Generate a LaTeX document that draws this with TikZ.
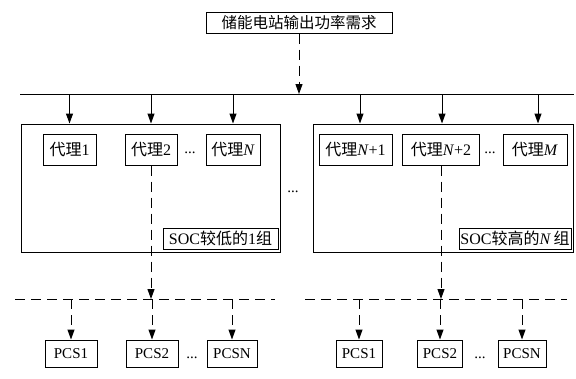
\documentclass[tikz,border=0pt]{standalone}
\usepackage{fontspec}
\setmainfont{Liberation Serif}
\newfontfamily\cjk{Noto Sans CJK SC}
\usetikzlibrary{arrows.meta}
\newcommand\zh[1]{{\cjk #1}}
\begin{document}
\begin{tikzpicture}[x=1pt,y=-1pt,
  box/.style={draw,line width=1pt,inner sep=0pt,font=\fontsize{16}{18}\selectfont},
  pcs/.style={box,font=\fontsize{15}{18}\selectfont},
  grp/.style={draw,line width=1pt},
  txt/.style={inner sep=0pt,font=\fontsize{15}{18}\selectfont},
  arr/.style={line width=1pt,-{Triangle[length=10pt,width=7pt]}},
  dsh/.style={line width=1pt,dash pattern=on 10pt off 6pt},
  darr/.style={dsh,-{Triangle[length=10pt,width=7pt]}}]
\useasboundingbox (0,0) rectangle (576,378);
% top node
\node[box,font=\fontsize{15.5}{18}\selectfont,minimum width=186pt,minimum height=21pt] (top) at (299,22.5) {\zh{储能电站输出功率需求}};
% bus
\coordinate (busL) at (20,94);
\coordinate (busR) at (574,94);
\draw[line width=1pt] (busL) -- (busR);
\draw[darr] (top.south) -- (top.south |- busL);
% groups
\node[grp,minimum width=259pt,minimum height=128pt,inner sep=0pt] (g1) at (150.5,188) {};
\node[grp,minimum width=260pt,minimum height=128pt,inner sep=0pt] (g2) at (443,188) {};
% agents
\node[box,minimum width=53pt,minimum height=31pt] (a1) at (69.5,149.5) {\zh{代理}1};
\node[box,minimum width=52pt,minimum height=31pt] (a2) at (151,149.5) {\zh{代理}2};
\node[box,minimum width=54pt,minimum height=31pt] (aN) at (233,149.5) {\zh{代理}\textit{N}};
\node[box,minimum width=73pt,minimum height=31pt] (b1) at (355.5,149.5) {\zh{代理}\textit{N}+1};
\node[box,minimum width=77pt,minimum height=31pt] (b2) at (441,149.5) {\zh{代理}\textit{N}+2};
\node[box,minimum width=64pt,minimum height=31pt] (bM) at (535,149.5) {\zh{代理}\textit{M}};
\node[txt] (d1) at (190,153) {...};
\node[txt] (d2) at (490,153) {...};
\node[txt] (dm) at (293,192) {...};
% arrows from bus to groups
\foreach \n/\g in {a1/g1,a2/g1,aN/g1}{
  \draw[arr] (\n.north |- busL) -- (\n.north |- \g.north);
}
\coordinate (xb1) at (360,94);
\coordinate (xb2) at (442,94);
\coordinate (xbM) at (538,94);
\foreach \c in {xb1,xb2,xbM}{
  \draw[arr] (\c) -- (\c |- g2.north);
}
% SOC labels
\node[box,minimum width=115pt,minimum height=21pt] (s1) at (220.5,238.5) {SOC\zh{较低的}1\zh{组}};
\node[box,minimum width=112pt,minimum height=21pt] (s2) at (515,238.5) {SOC\zh{较高的}\textit{N}\,\zh{组}};
% dashed buses
\coordinate (dL1) at (15,299);
\coordinate (dR1) at (275,299);
\coordinate (dL2) at (305,299);
\coordinate (dR2) at (567,299);
\draw[dsh] (dL1) -- (dR1);
\draw[dsh] (dL2) -- (dR2);
\draw[darr] (a2.south) -- (a2.south |- dL1);
\draw[darr] (b2.south) -- (b2.south |- dL2);
% PCS
\node[pcs,minimum width=52pt,minimum height=27pt] (p1) at (71,353.5) {PCS1};
\node[pcs,minimum width=52pt,minimum height=27pt] (p2) at (152,353.5) {PCS2};
\node[pcs,minimum width=50pt,minimum height=27pt] (pN) at (232,353.5) {PCSN};
\node[pcs,minimum width=46pt,minimum height=27pt] (q1) at (359,353.5) {PCS1};
\node[pcs,minimum width=45pt,minimum height=27pt] (q2) at (440,353.5) {PCS2};
\node[pcs,minimum width=48pt,minimum height=27pt] (qN) at (522,353.5) {PCSN};
\node[txt] (e1) at (192,358) {...};
\node[txt] (e2) at (480,358) {...};
\foreach \p in {p1,p2,pN}{
  \draw[darr] (\p.north |- dL1) -- (\p.north);
}
\foreach \p in {q1,q2,qN}{
  \draw[darr] (\p.north |- dL2) -- (\p.north);
}
\end{tikzpicture}
\end{document}
